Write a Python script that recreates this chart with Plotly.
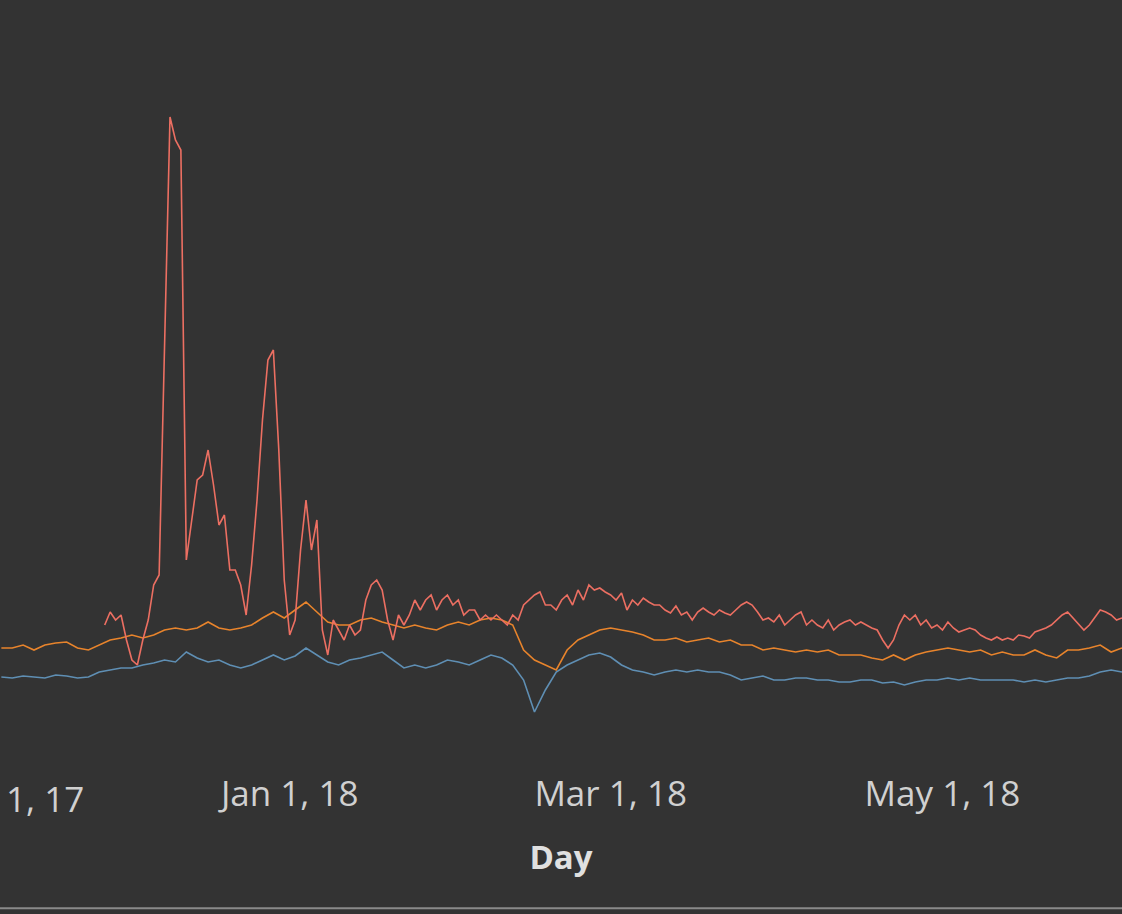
import pandas as pd
import plotly.graph_objects as go

start = pd.Timestamp("2017-11-09")

# red series: daily, from day 19
red_first_day = 19
red_vals = [125, 138, 130, 135, 110, 90, 85, 110, 130, 165, 175, 400, 633, 610, 600,
            190, 230, 270, 275, 300, 265, 225, 235, 180, 180, 165, 135, 185, 250, 330,
            390, 400, 300, 170, 115, 130, 200, 250, 200, 230, 120, 95, 130, 120, 110,
            125, 115, 120, 150, 165, 170, 160, 130, 110, 135, 125, 135, 150, 140, 150,
            155, 140, 150, 155, 145, 150, 135, 140, 140, 130, 135, 130, 135, 130, 125,
            135, 130, 145, 150, 155, 158, 145, 145, 140, 150, 155, 145, 160, 150, 165,
            160, 162, 158, 155, 150, 157, 140, 150, 145, 152, 148, 145, 145, 140, 137,
            144, 135, 138, 130, 138, 142, 138, 135, 140, 137, 135, 140, 145, 148, 145,
            138, 130, 132, 128, 135, 125, 130, 135, 138, 125, 130, 125, 122, 130, 120,
            125, 128, 130, 125, 128, 125, 122, 120, 110, 102, 110, 125, 135, 130, 135,
            125, 130, 122, 125, 120, 128, 122, 118, 120, 122, 120, 115, 112, 110, 113,
            110, 112, 110, 115, 114, 112, 118, 120, 122, 125, 130, 135, 138, 132, 125,
            120, 125, 132, 140, 138, 135, 130, 132]

# orange and blue: every second day from day 0
orange_px = [648, 648, 645, 650, 645, 643, 642, 648, 650, 645, 640, 638, 635, 638, 635,
             630, 628, 630, 628, 622, 628, 630, 628, 625, 618, 612, 618, 610, 602, 612,
             622, 625, 625, 620, 618, 622, 625, 628, 625, 628, 630, 625, 622, 625, 620,
             618, 620, 625, 650, 660, 665, 670, 650, 640, 635, 630, 628, 630, 632, 635,
             640, 640, 638, 642, 640, 638, 642, 640, 645, 645, 650, 648, 650, 652, 650,
             652, 650, 655, 655, 655, 658, 660, 655, 660, 655, 652, 650, 648, 650, 652,
             650, 655, 652, 655, 655, 650, 655, 658, 650, 650, 648, 645, 652, 648]
blue_px = [677, 678, 676, 677, 678, 675, 676, 678, 677, 672, 670, 668, 668, 665, 663,
           660, 662, 652, 658, 662, 660, 665, 668, 665, 660, 655, 660, 656, 648, 655,
           662, 665, 660, 658, 655, 652, 660, 668, 665, 668, 665, 660, 662, 665, 660,
           655, 658, 665, 680, 712, 690, 672, 665, 660, 655, 653, 657, 665, 670, 672,
           675, 672, 670, 672, 670, 672, 672, 675, 680, 678, 676, 680, 680, 678, 678,
           680, 680, 682, 682, 680, 680, 683, 682, 685, 682, 680, 680, 678, 680, 678,
           680, 680, 680, 680, 682, 680, 682, 680, 678, 678, 676, 672, 670, 672]
orange_vals = [750 - v for v in orange_px]
blue_vals = [750 - v for v in blue_px]

tick_dates = ["2017-11-01", "2018-01-01", "2018-03-01", "2018-05-01"]
tick_text = ["Nov 1, 17", "Jan 1, 18", "Mar 1, 18", "May 1, 18"]

red_dates = [start + pd.Timedelta(days=red_first_day + i) for i in range(len(red_vals))]
ob_dates = [start + pd.Timedelta(days=2 * i) for i in range(len(orange_vals))]

fig = go.Figure()
fig.add_trace(go.Scatter(x=ob_dates, y=blue_vals, mode="lines",
                         line=dict(color="#5f8fb4", width=1.6)))
fig.add_trace(go.Scatter(x=ob_dates, y=orange_vals, mode="lines",
                         line=dict(color="#e8842c", width=1.6)))
fig.add_trace(go.Scatter(x=red_dates, y=red_vals, mode="lines",
                         line=dict(color="#ec6f62", width=1.6)))

fig.update_layout(
    width=1122, height=914,
    paper_bgcolor="#333333", plot_bgcolor="#333333",
    margin=dict(l=0, r=0, t=0, b=164),
    showlegend=False,
    font=dict(family="Open Sans", color="#d8d8d8"),
    xaxis=dict(range=["2017-11-08 18:00", "2018-06-03 00:00"],
               tickvals=tick_dates[1:], ticktext=tick_text[1:],
               tickfont=dict(size=35, color="#d0d0d0"),
               showgrid=False, zeroline=False, showline=False,
               ticks="", ticklabelstandoff=20,
               title=dict(text="<b>Day</b>", font=dict(size=33, color="#e0e0e0"),
                          standoff=30)),
    yaxis=dict(range=[0, 750], visible=False),
)
fig.add_annotation(x=0.077, y=-0.065, xref="paper", yref="paper", text=tick_text[0],
                   showarrow=False, xanchor="right", yanchor="middle",
                   font=dict(size=35, color="#d0d0d0"))
fig.add_shape(type="line", xref="paper", yref="paper", x0=0, x1=1, y0=-0.211, y1=-0.211,
              line=dict(color="#8a8a8a", width=2))

fig.write_html("out.html", config={"displayModeBar": False},
               post_script="document.body.style.margin='0';")
